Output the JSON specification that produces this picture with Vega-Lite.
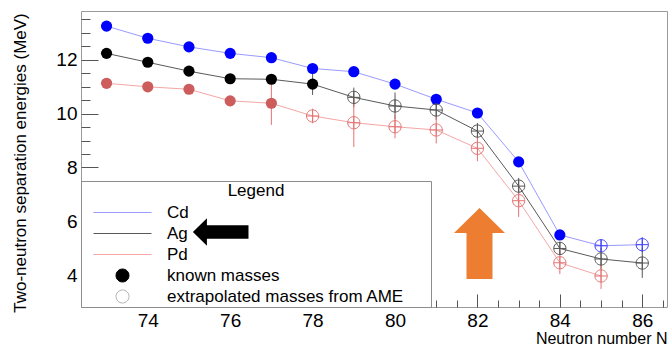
{
  "$schema": "https://vega.github.io/schema/vega-lite/v6.json",
  "width": 586,
  "height": 296,
  "autosize": {"type": "none"},
  "padding": {"left": 81, "top": 11, "right": 5, "bottom": 39},
  "background": "white",
  "config": {"view": {"stroke": "#9a9a9a", "strokeWidth": 1}, "font": "Liberation Sans"},
  "datasets": {
    "sn": [
      {"el": "Cd", "N": 73, "S2n": 13.24, "kind": "known"},
      {"el": "Cd", "N": 74, "S2n": 12.79, "kind": "known"},
      {"el": "Cd", "N": 75, "S2n": 12.47, "kind": "known"},
      {"el": "Cd", "N": 76, "S2n": 12.23, "kind": "known"},
      {"el": "Cd", "N": 77, "S2n": 12.07, "kind": "known"},
      {"el": "Cd", "N": 78, "S2n": 11.67, "kind": "known"},
      {"el": "Cd", "N": 79, "S2n": 11.55, "kind": "known"},
      {"el": "Cd", "N": 80, "S2n": 11.09, "kind": "known"},
      {"el": "Cd", "N": 81, "S2n": 10.53, "kind": "known"},
      {"el": "Cd", "N": 82, "S2n": 10.02, "kind": "known"},
      {"el": "Cd", "N": 83, "S2n": 8.21, "kind": "known"},
      {"el": "Cd", "N": 84, "S2n": 5.50, "kind": "known"},
      {"el": "Cd", "N": 85, "S2n": 5.10, "kind": "extrapolated", "lo": 4.88, "hi": 5.32},
      {"el": "Cd", "N": 86, "S2n": 5.14, "kind": "extrapolated", "lo": 4.86, "hi": 5.42},
      {"el": "Ag", "N": 73, "S2n": 12.23, "kind": "known"},
      {"el": "Ag", "N": 74, "S2n": 11.90, "kind": "known"},
      {"el": "Ag", "N": 75, "S2n": 11.57, "kind": "known"},
      {"el": "Ag", "N": 76, "S2n": 11.29, "kind": "known"},
      {"el": "Ag", "N": 77, "S2n": 11.27, "kind": "known"},
      {"el": "Ag", "N": 78, "S2n": 11.09, "kind": "known", "lo": 10.69, "hi": 11.49},
      {"el": "Ag", "N": 79, "S2n": 10.60, "kind": "extrapolated", "lo": 10.24, "hi": 10.96},
      {"el": "Ag", "N": 80, "S2n": 10.28, "kind": "extrapolated", "lo": 9.78, "hi": 10.78},
      {"el": "Ag", "N": 81, "S2n": 10.13, "kind": "extrapolated", "lo": 9.76, "hi": 10.50},
      {"el": "Ag", "N": 82, "S2n": 9.35, "kind": "extrapolated", "lo": 9.05, "hi": 9.65},
      {"el": "Ag", "N": 83, "S2n": 7.31, "kind": "extrapolated", "lo": 7.01, "hi": 7.61},
      {"el": "Ag", "N": 84, "S2n": 5.00, "kind": "extrapolated", "lo": 4.75, "hi": 5.25},
      {"el": "Ag", "N": 85, "S2n": 4.61, "kind": "extrapolated", "lo": 4.21, "hi": 5.01},
      {"el": "Ag", "N": 86, "S2n": 4.46, "kind": "extrapolated", "lo": 3.91, "hi": 5.01},
      {"el": "Pd", "N": 73, "S2n": 11.12, "kind": "known"},
      {"el": "Pd", "N": 74, "S2n": 10.99, "kind": "known"},
      {"el": "Pd", "N": 75, "S2n": 10.90, "kind": "known"},
      {"el": "Pd", "N": 76, "S2n": 10.47, "kind": "known"},
      {"el": "Pd", "N": 77, "S2n": 10.38, "kind": "known", "lo": 9.58, "hi": 11.18},
      {"el": "Pd", "N": 78, "S2n": 9.91, "kind": "extrapolated", "lo": 9.64, "hi": 10.18},
      {"el": "Pd", "N": 79, "S2n": 9.66, "kind": "extrapolated", "lo": 8.76, "hi": 10.56},
      {"el": "Pd", "N": 80, "S2n": 9.51, "kind": "extrapolated", "lo": 9.08, "hi": 9.94},
      {"el": "Pd", "N": 81, "S2n": 9.39, "kind": "extrapolated", "lo": 8.89, "hi": 9.89},
      {"el": "Pd", "N": 82, "S2n": 8.71, "kind": "extrapolated", "lo": 8.23, "hi": 9.19},
      {"el": "Pd", "N": 83, "S2n": 6.77, "kind": "extrapolated", "lo": 6.17, "hi": 7.37},
      {"el": "Pd", "N": 84, "S2n": 4.47, "kind": "extrapolated", "lo": 4.05, "hi": 4.89},
      {"el": "Pd", "N": 85, "S2n": 3.98, "kind": "extrapolated", "lo": 3.50, "hi": 4.46}
    ],
    "arrowUp": [{"N": 82.05, "S2n": 5.18}],
    "arrowLeft": [{"N": 75.77, "S2n": 5.61}]
  },
  "data": {"name": "sn"},
  "resolve": {"axis": {"x": "independent", "y": "independent"}},
  "layer": [
    {
      "mark": {"type": "line", "strokeWidth": 1},
      "encoding": {
        "x": {"field": "N", "type": "quantitative",
          "scale": {"domain": [72.38, 86.6], "nice": false, "zero": false},
          "axis": {"orient": "bottom", "values": [74, 76, 78, 80, 82, 84, 86], "ticks": false, "tickSize": 0, "domain": false, "grid": false,
            "labelFont": "Liberation Sans", "labelFontSize": 19, "labelColor": "#000000", "labelPadding": 4, "labelFlush": false, "labelOverlap": false,
            "title": "Neutron number N", "titleFont": "Liberation Sans", "titleFontSize": 16, "titleFontWeight": "normal", "titleColor": "#000000",
            "titleAlign": "right", "titleAnchor": "end", "titleBaseline": "alphabetic", "titleX": 586, "titleY": 36}},
        "y": {"field": "S2n", "type": "quantitative",
          "scale": {"domain": [2.83, 13.8], "nice": false, "zero": false},
          "axis": {"orient": "left", "values": [4, 6, 8, 10, 12], "ticks": false, "tickSize": 0, "domain": false, "grid": false,
            "labelFont": "Liberation Sans", "labelFontSize": 19, "labelColor": "#000000", "labelPadding": 4, "labelFlush": false, "labelOverlap": false,
            "title": "Two-neutron separation energies (MeV)", "titleFont": "Liberation Sans", "titleFontSize": 17, "titleFontWeight": "normal", "titleColor": "#000000",
            "titleAngle": -90, "titleAlign": "center", "titleBaseline": "alphabetic", "titleX": -56, "titleY": 151.5}},
        "color": {"field": "el", "type": "nominal",
          "scale": {"domain": ["Cd", "Ag", "Pd", "known masses", "extrapolated masses from AME"],
                    "range": ["#9a9aff", "#5a5a5a", "#f4a6a6", "#000000", "#b4b4b4"]},
          "legend": {"orient": "none", "legendX": 0, "legendY": 170, "direction": "vertical",
            "title": "Legend", "titleFont": "Liberation Sans", "titleFontSize": 17, "titleFontWeight": "normal", "titleColor": "#000000",
            "titleAnchor": "middle", "titlePadding": 2,
            "labelFont": "Liberation Sans", "labelFontSize": 17, "labelColor": "#000000", "labelLimit": 500,
            "padding": 2, "strokeColor": "#8c8c8c",
            "symbolType": "stroke", "symbolSize": 400, "symbolStrokeWidth": 1, "symbolOffset": 29, "labelOffset": 34,
            "rowPadding": 2,
            "encoding": {"symbols": {
              "shape": {"condition": [
                {"test": "datum.value == 'extrapolated masses from AME'", "value": "M30.45,0L30.45,0.001M-0.65,0A0.65,0.65,0,1,0,0.65,0A0.65,0.65,0,1,0,-0.65,0Z"},
                {"test": "datum.value == 'known masses'", "value": "M-0.65,0A0.65,0.65,0,1,0,0.65,0A0.65,0.65,0,1,0,-0.65,0Z"}
              ], "value": "M-2.9,0L2.9,0"},
              "fill": {"condition": {"test": "datum.value == 'known masses'", "value": "#000000"}, "value": "transparent"}
            }}}}
      }
    },
    {
      "transform": [{"filter": "isValid(datum.lo)"}],
      "mark": {"type": "rule", "strokeWidth": 1},
      "encoding": {
        "x": {"field": "N", "type": "quantitative",
          "scale": {"domain": [72.38, 86.6], "nice": false, "zero": false},
          "axis": {"orient": "bottom", "values": [82, 84, 86], "labels": false, "domain": false, "grid": false, "ticks": true, "tickSize": -13, "tickColor": "#555555", "tickWidth": 1, "title": null}},
        "y": {"field": "lo", "type": "quantitative",
          "scale": {"domain": [2.83, 13.8], "nice": false, "zero": false},
          "axis": {"orient": "left", "values": [8, 10, 12], "labels": false, "domain": false, "grid": false, "ticks": true, "tickSize": -17, "tickColor": "#555555", "tickWidth": 1, "title": null}},
        "y2": {"field": "hi"},
        "stroke": {"field": "el", "type": "nominal",
          "scale": {"domain": ["Cd", "Ag", "Pd"], "range": ["#4040ff", "#555555", "#e57373"]}, "legend": null}
      }
    },
    {
      "transform": [{"filter": "datum.kind == 'known'"}],
      "mark": {"type": "point", "filled": true, "shape": "circle", "size": 125, "opacity": 1, "strokeWidth": 0},
      "encoding": {
        "x": {"field": "N", "type": "quantitative",
          "scale": {"domain": [72.38, 86.6], "nice": false, "zero": false},
          "axis": {"orient": "bottom", "values": [81, 81.5, 82.5, 83, 83.5, 84.5, 85, 85.5, 86.5], "labels": false, "domain": false, "grid": false, "ticks": true, "tickSize": -7, "tickColor": "#555555", "tickWidth": 1, "title": null}},
        "y": {"field": "S2n", "type": "quantitative",
          "scale": {"domain": [2.83, 13.8], "nice": false, "zero": false},
          "axis": {"orient": "left", "values": [8.5, 9, 9.5, 10.5, 11, 11.5, 12.5, 13, 13.5], "labels": false, "domain": false, "grid": false, "ticks": true, "tickSize": -9, "tickColor": "#555555", "tickWidth": 1, "title": null}},
        "fill": {"field": "el", "type": "nominal",
          "scale": {"domain": ["Cd", "Ag", "Pd"], "range": ["#0000ff", "#000000", "#cd5c5c"]}, "legend": null}
      }
    },
    {
      "transform": [{"filter": "datum.kind == 'extrapolated'"}],
      "mark": {"type": "point", "filled": false, "shape": "M-1,0A1,1,0,1,0,1,0A1,1,0,1,0,-1,0ZM-1,0L1,0M0,-1L0,1", "size": 150, "opacity": 1, "strokeWidth": 1},
      "encoding": {
        "x": {"field": "N", "type": "quantitative", "scale": {"domain": [72.38, 86.6], "nice": false, "zero": false}, "axis": null},
        "y": {"field": "S2n", "type": "quantitative", "scale": {"domain": [2.83, 13.8], "nice": false, "zero": false}, "axis": null},
        "stroke": {"field": "el", "type": "nominal",
          "scale": {"domain": ["Cd", "Ag", "Pd"], "range": ["#4040ff", "#555555", "#e57373"]}, "legend": null}
      }
    },
    {
      "data": {"name": "arrowUp"},
      "mark": {"type": "point", "filled": true, "shape": "M0,-1L0.718,-0.296L0.366,-0.296L0.366,1L-0.366,1L-0.366,-0.296L-0.718,-0.296Z", "size": 5041, "color": "#ed7d31", "opacity": 1, "strokeWidth": 0},
      "encoding": {
        "x": {"field": "N", "type": "quantitative", "scale": {"domain": [72.38, 86.6], "nice": false, "zero": false}, "axis": null},
        "y": {"field": "S2n", "type": "quantitative", "scale": {"domain": [2.83, 13.8], "nice": false, "zero": false}, "axis": null}
      }
    },
    {
      "data": {"name": "arrowLeft"},
      "mark": {"type": "point", "filled": true, "shape": "M-1,0L-0.496,-0.498L-0.496,-0.239L1,-0.239L1,0.239L-0.496,0.239L-0.496,0.498Z", "size": 3091, "color": "#000000", "opacity": 1, "strokeWidth": 0},
      "encoding": {
        "x": {"field": "N", "type": "quantitative", "scale": {"domain": [72.38, 86.6], "nice": false, "zero": false}, "axis": null},
        "y": {"field": "S2n", "type": "quantitative", "scale": {"domain": [2.83, 13.8], "nice": false, "zero": false}, "axis": null}
      }
    }
  ]
}
